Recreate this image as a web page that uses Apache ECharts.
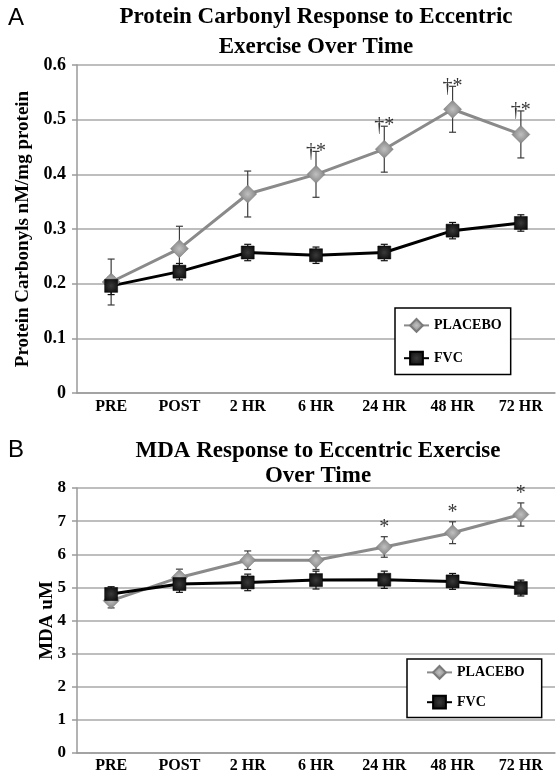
<!DOCTYPE html>
<html>
<head>
<meta charset="utf-8">
<script src="https://cdn.jsdelivr.net/npm/echarts@6/dist/echarts.min.js"></script>
<style>
html,body{margin:0;padding:0;background:#fff;}
#chart{width:558px;height:773px;}
</style>
</head>
<body>
<div id="chart"></div>
<script>
// ---- data ----
const categories = ['PRE', 'POST', '2 HR', '6 HR', '24 HR', '48 HR', '72 HR'];

const carbonylPlacebo   = [0.203, 0.264, 0.364, 0.400, 0.446, 0.519, 0.473];
const carbonylPlaceboSD = [0.042, 0.041, 0.042, 0.042, 0.042, 0.042, 0.043];
const carbonylFVC       = [0.196, 0.222, 0.257, 0.252, 0.257, 0.297, 0.311];
const carbonylFVCSD     = [0.016, 0.015, 0.015, 0.015, 0.015, 0.015, 0.015];
const carbonylMarks     = ['', '', '', '†*', '†*', '†*', '†*'];
const carbonylTicks     = [0, 0.1, 0.2, 0.3, 0.4, 0.5, 0.6];

const mdaPlacebo   = [4.60, 5.30, 5.82, 5.82, 6.22, 6.65, 7.20];
const mdaPlaceboSD = [0.22, 0.25, 0.28, 0.28, 0.31, 0.33, 0.35];
const mdaFVC       = [4.80, 5.10, 5.15, 5.22, 5.23, 5.18, 4.98];
const mdaFVCSD     = [0.22, 0.25, 0.25, 0.27, 0.26, 0.24, 0.24];
const mdaMarks     = ['', '', '', '', '*', '*', '*'];
const mdaTicks     = [0, 1, 2, 3, 4, 5, 6, 7, 8];

const seriesNames = ['PLACEBO', 'FVC'];
const titleA = 'Protein Carbonyl Response to Eccentric\nExercise Over Time';
const titleB = 'MDA Response to Eccentric Exercise\nOver Time';
const yNameA = 'Protein Carbonyls nM/mg protein';
const yNameB = 'MDA uM';

// ---- helpers ----
const SERIF = '"Liberation Serif", "Times New Roman", serif';
const SANS = '"Liberation Sans", Arial, sans-serif';

function errData(means, sds) {
  return means.map((m, i) => [i, m - sds[i], m + sds[i]]);
}
function markData(means, sds, marks) {
  const out = [];
  marks.forEach((t, i) => { if (t) out.push({ value: [i, means[i] + sds[i]], mark: t }); });
  return out;
}
function errorRenderer(color) {
  return function (params, api) {
    const x = api.value(0);
    const lo = api.coord([x, api.value(1)]);
    const hi = api.coord([x, api.value(2)]);
    const w = 3.5;
    const style = { stroke: color, lineWidth: 1.2 };
    return {
      type: 'group',
      children: [
        { type: 'line', shape: { x1: lo[0], y1: lo[1], x2: hi[0], y2: hi[1] }, style },
        { type: 'line', shape: { x1: hi[0] - w, y1: hi[1], x2: hi[0] + w, y2: hi[1] }, style },
        { type: 'line', shape: { x1: lo[0] - w, y1: lo[1], x2: lo[0] + w, y2: lo[1] }, style }
      ]
    };
  };
}

const diamondFill = new echarts.graphic.RadialGradient(0.5, 0.5, 0.6, [
  { offset: 0, color: '#c0c0c0' }, { offset: 1, color: '#767676' }
]);
const squareFill = new echarts.graphic.RadialGradient(0.5, 0.5, 0.7, [
  { offset: 0, color: '#3a3a3a' }, { offset: 1, color: '#050505' }
]);

function xAxisCfg(gridIndex, margin) {
  return {
    type: 'category', gridIndex, data: categories, boundaryGap: true,
    axisLine: { lineStyle: { color: '#9a9a9a', width: 1.5 } },
    axisTick: { show: false },
    axisLabel: { margin, color: '#000', fontFamily: SERIF, fontWeight: 'bold', fontSize: 16, interval: 0 }
  };
}
function yAxisCfg(gridIndex, ticks, name, nameGap, fontSize, decimals) {
  return {
    type: 'value', gridIndex,
    min: ticks[0], max: ticks[ticks.length - 1], interval: ticks[1] - ticks[0],
    name, nameLocation: 'middle', nameGap, nameRotate: 90, nameMoveOverlap: false,
    nameTextStyle: { fontFamily: SERIF, fontWeight: 'bold', fontSize: 19, color: '#000' },
    axisLine: { show: true, lineStyle: { color: '#9a9a9a', width: 1.5 } },
    axisTick: { show: true, length: 5, inside: false, lineStyle: { color: '#9a9a9a', width: 1.5 } },
    splitLine: { show: true, lineStyle: { color: '#a8a8a8', width: 1.5 } },
    axisLabel: {
      margin: 11, color: '#000', fontFamily: SERIF, fontWeight: 'bold', fontSize,
      formatter: v => (v === 0 ? '0' : (decimals ? v.toFixed(decimals) : String(Math.round(v))))
    }
  };
}
function lineSeries(name, data, xi, isPlacebo, symSize) {
  return {
    type: 'line', name, data, xAxisIndex: xi, yAxisIndex: xi, z: 3,
    symbol: isPlacebo ? 'diamond' : 'rect',
    symbolSize: symSize,
    lineStyle: { color: isPlacebo ? '#8a8a8a' : '#000', width: 3 },
    itemStyle: { color: isPlacebo ? diamondFill : squareFill, borderColor: isPlacebo ? '#7a7a7a' : '#000', borderWidth: 0.5 },
    emphasis: { disabled: true },
    animation: false
  };
}
function errSeries(data, xi, color) {
  return {
    type: 'custom', data, xAxisIndex: xi, yAxisIndex: xi, z: 2,
    encode: { x: 0, y: [1, 2] }, renderItem: errorRenderer(color), animation: false, silent: true
  };
}
function markSeries(data, xi, fontSize, offsetY) {
  return {
    type: 'scatter', data, xAxisIndex: xi, yAxisIndex: xi, z: 4,
    symbolSize: 0, silent: true, animation: false,
    label: {
      show: true, position: 'inside', offset: [0, offsetY],
      formatter: p => p.data.mark,
      fontFamily: SERIF, fontSize, color: '#000'
    }
  };
}
function legendCfg(left, top, padding, itemGap) {
  return {
    orient: 'vertical', left, top, padding, itemGap,
    itemWidth: 25, itemHeight: 16,
    backgroundColor: '#fff', borderColor: '#000', borderWidth: 1.5,
    data: seriesNames,
    selectedMode: false,
    textStyle: { fontFamily: SERIF, fontWeight: 'bold', fontSize: 14, color: '#000' }
  };
}

const chart = echarts.init(document.getElementById('chart'), null, { renderer: 'canvas' });
chart.setOption({
  backgroundColor: '#fff',
  animation: false,
  graphic: [
    { type: 'text', x: 8, y: 6, style: { text: 'A', font: 'normal 24px ' + SANS, fill: '#000' } },
    { type: 'text', x: 316, y: 2, style: { text: titleA, align: 'center', verticalAlign: 'top', font: 'bold 23px ' + SERIF, lineHeight: 30, fill: '#000' } },
    { type: 'text', x: 8, y: 438, style: { text: 'B', font: 'normal 24px ' + SANS, fill: '#000' } },
    { type: 'text', x: 318, y: 439, style: { text: titleB, align: 'center', verticalAlign: 'top', font: 'bold 23px ' + SERIF, lineHeight: 25, fill: '#000' } }
  ],
  grid: [
    { left: 77, top: 65, width: 478, height: 328, outerBoundsMode: 'none', containLabel: false },
    { left: 77, top: 488, width: 478, height: 265, outerBoundsMode: 'none', containLabel: false }
  ],
  xAxis: [xAxisCfg(0, 6), xAxisCfg(1, 5)],
  yAxis: [
    yAxisCfg(0, carbonylTicks, yNameA, 44, 18, 1),
    yAxisCfg(1, mdaTicks, yNameB, 20, 17, 0)
  ],
  legend: [
    legendCfg(395, 308, [10, 9, 9, 8], 18),
    legendCfg(407, 659, [6, 17, 8, 19], 15)
  ],
  series: [
    errSeries(errData(carbonylPlacebo, carbonylPlaceboSD), 0, '#3c3c3c'),
    errSeries(errData(carbonylFVC, carbonylFVCSD), 0, '#111'),
    lineSeries(seriesNames[0], carbonylPlacebo, 0, true, 18),
    lineSeries(seriesNames[1], carbonylFVC, 0, false, 13),
    markSeries(markData(carbonylPlacebo, carbonylPlaceboSD, carbonylMarks), 0, 20, 0),

    errSeries(errData(mdaPlacebo, mdaPlaceboSD), 1, '#3c3c3c'),
    errSeries(errData(mdaFVC, mdaFVCSD), 1, '#111'),
    lineSeries(seriesNames[0], mdaPlacebo, 1, true, 16),
    lineSeries(seriesNames[1], mdaFVC, 1, false, 13),
    markSeries(markData(mdaPlacebo, mdaPlaceboSD, mdaMarks), 1, 20, -9)
  ]
});
</script>
</body>
</html>
